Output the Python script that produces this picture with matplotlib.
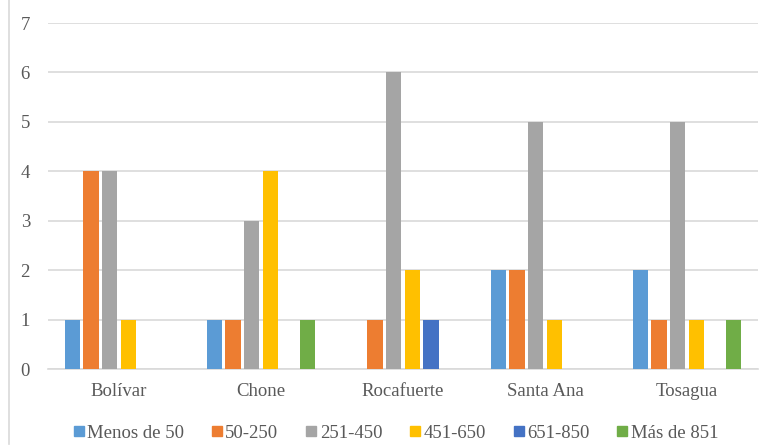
import matplotlib
matplotlib.use("Agg")
import matplotlib.pyplot as plt
import numpy as np
from matplotlib.lines import Line2D
from matplotlib.font_manager import FontProperties

plt.rcParams['font.family'] = 'serif'
plt.rcParams['font.serif'] = ['Liberation Serif', 'DejaVu Serif']
fuente = FontProperties(family='Liberation Serif', size=13.5)

cantones = ["Bolívar", "Chone", "Rocafuerte", "Santa Ana", "Tosagua"]
rangos = ["Menos de 50", "50-250", "251-450", "451-650", "651-850", "Más de 851"]
menos_50 = [1, 1, 0, 2, 2]
r50_250 = [4, 1, 1, 2, 1]
r251_450 = [4, 3, 6, 5, 5]
r451_650 = [1, 4, 2, 1, 1]
r651_850 = [0, 0, 1, 0, 0]
mas_851 = [0, 1, 0, 0, 1]
series = [menos_50, r50_250, r251_450, r451_650, r651_850, mas_851]
colores = ["#5B9BD5", "#ED7D31", "#A5A5A5", "#FFC000", "#4472C4", "#70AD47"]

fig = plt.figure(figsize=(7.75, 4.46), dpi=100)
ax = fig.add_axes([48/775, 1 - 369/446, (758 - 48)/775, (369 - 23)/446])

x = np.arange(len(cantones))
slot = 0.1317
ancho = 0.109
for i, (vals, c) in enumerate(zip(series, colores)):
    offs = (i - 2.5) * slot
    ax.bar(x + offs, vals, width=ancho, color=c, zorder=3)

ax.set_xlim(-0.5, len(cantones) - 0.5)
ax.set_ylim(0, 7)
ax.set_yticks(range(0, 8))
ax.yaxis.grid(True, color="#D9D9D9", linewidth=1.2, zorder=0)
ax.set_axisbelow(True)
for s in ["top", "right", "left"]:
    ax.spines[s].set_visible(False)
ax.spines["bottom"].set_color("#D9D9D9")
ax.spines["bottom"].set_linewidth(1.2)
ax.tick_params(axis="both", length=0, colors="#595959")
ax.tick_params(axis="y", pad=13)
ax.tick_params(axis="x", pad=10)
ax.set_xticks(x)
ax.set_xticklabels(cantones)
for lbl in ax.get_xticklabels() + ax.get_yticklabels():
    lbl.set_fontproperties(fuente)

handles = [Line2D([0], [0], marker="s", linestyle="none", markersize=7,
                  markerfacecolor=c, markeredgecolor=c) for c in colores]
fig.legend(handles, rangos, loc="center", bbox_to_anchor=(0.511, 1 - 433/446),
           ncol=6, frameon=False, prop=fuente, handlelength=0.5,
           handletextpad=0.2, columnspacing=1.5, labelcolor="#595959")

# left frame line of the chart area
fig.add_artist(Line2D([9/775, 9/775], [0.005, 1.0], transform=fig.transFigure,
                      color="#D9D9D9", linewidth=1.2))

fig.savefig("out.png", dpi=100)
